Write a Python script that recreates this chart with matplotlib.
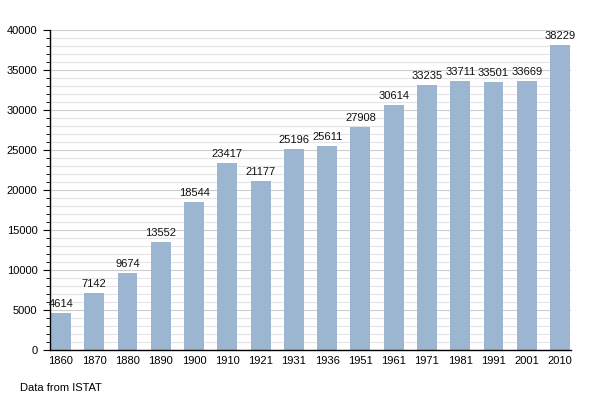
import numpy as np
import matplotlib.pyplot as plt
from matplotlib.ticker import MultipleLocator

plt.rcParams['font.family'] = ['Liberation Sans', 'DejaVu Sans']

years = ['1860', '1870', '1880', '1890', '1900', '1910', '1921', '1931',
         '1936', '1951', '1961', '1971', '1981', '1991', '2001', '2010']
population = [4614, 7142, 9674, 13552, 18544, 23417, 21177, 25196,
              25611, 27908, 30614, 33235, 33711, 33501, 33669, 38229]

fig = plt.figure(figsize=(6, 4), dpi=100)
ax = fig.add_axes([50 / 600, 0.124, 521 / 600, 0.8])

x = np.arange(len(years))
ax.bar(x, population, width=0.6, color='#9cb5d0', zorder=2)

for xi, v in zip(x, population):
    ax.text(xi, v + 500, str(v), ha='center', va='bottom', fontsize=8, color='#111111')

ax.set_xlim(-0.33, len(years) - 1 + 0.33)
ax.set_ylim(0, 40000)
ax.set_xticks(x)
ax.set_xticklabels(years)
ax.yaxis.set_major_locator(MultipleLocator(5000))
ax.yaxis.set_minor_locator(MultipleLocator(1000))
ax.grid(axis='y', which='minor', color='#e4e4e4', linewidth=0.8, zorder=0)
ax.grid(axis='y', which='major', color='#cccccc', linewidth=0.8, zorder=0)
ax.tick_params(axis='x', length=0, labelsize=8, pad=4)
ax.tick_params(axis='y', which='major', length=5, labelsize=8, pad=4)
ax.tick_params(axis='y', which='minor', length=3)
for s in ['top', 'right']:
    ax.spines[s].set_visible(False)
ax.spines['left'].set_linewidth(1)
ax.spines['bottom'].set_linewidth(1)

fig.text(20 / 600, 1 - 388 / 400, 'Data from ISTAT', fontsize=8, va='center')

fig.savefig('out.png', dpi=100)
